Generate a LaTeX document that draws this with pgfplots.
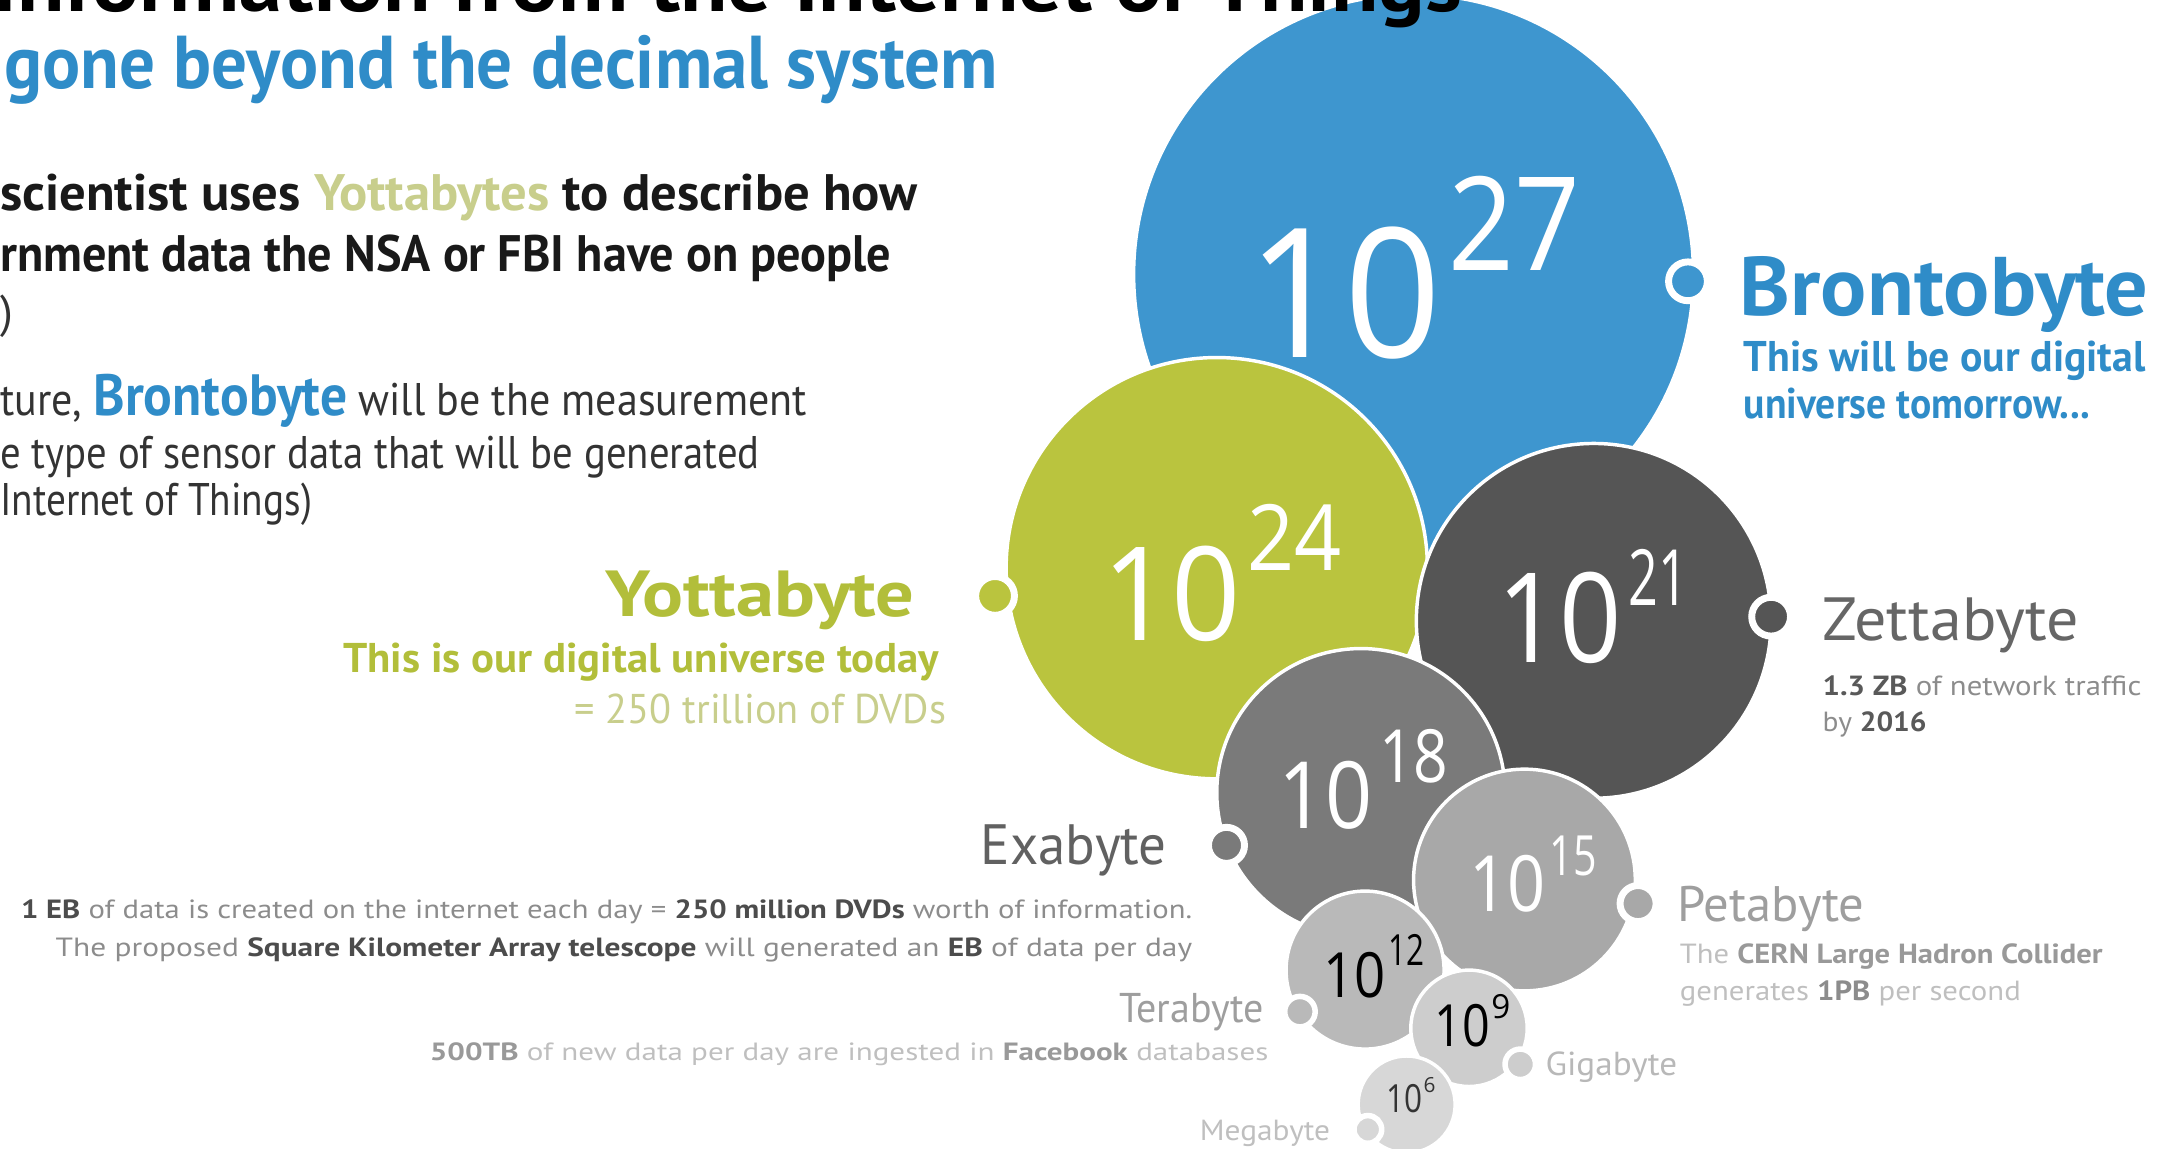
\documentclass[border=0pt]{standalone}
\usepackage{fontspec}
\usepackage{graphicx}
\usepackage{pgfplots}
\pgfplotsset{compat=1.18}
\setmainfont{PT Sans}
\newfontfamily\numfont{Open Sans}
\definecolor{cBlue}{RGB}{62,150,207}
\definecolor{cBlueT}{RGB}{47,140,200}
\definecolor{cGreen}{RGB}{186,196,62}
\definecolor{cGreenT}{RGB}{178,190,58}
\definecolor{cGreenL}{RGB}{200,206,140}
\definecolor{cDark}{RGB}{85,85,85}
\definecolor{cExa}{RGB}{122,122,122}
\definecolor{cPeta}{RGB}{168,168,168}
\definecolor{cTera}{RGB}{185,185,185}
\definecolor{cGiga}{RGB}{205,205,205}
\definecolor{cMega}{RGB}{215,215,215}
\newcommand\fw[2]{\resizebox{#1pt}{\height}{#2}}
\newcommand\fs[1]{\fontsize{#1}{#1}\selectfont}
\begin{document}
\begin{tikzpicture}
\begin{axis}[at={(0,0)}, anchor=south west, width=1568pt, height=829pt, scale only axis, set layers,
  xmin=0, xmax=1568, ymin=0, ymax=829, y dir=reverse, axis lines=none, ticks=none, clip=false]
% bubbles: Brontobyte, Yottabyte, Zettabyte, Exabyte, Petabyte, Terabyte, Gigabyte, Megabyte
\addplot[only marks, mark=*, mark size=202, mark options={fill=cBlue, draw=white, line width=2.5pt}] coordinates {(1020,198)};
\addplot[only marks, mark=*, mark size=152, mark options={fill=cGreen, draw=white, line width=2.5pt}] coordinates {(878,410)};
\addplot[only marks, mark=*, mark size=128, mark options={fill=cDark, draw=white, line width=2.5pt}] coordinates {(1150,448)};
\addplot[only marks, mark=*, mark size=104, mark options={fill=cExa, draw=white, line width=2.5pt}] coordinates {(982,572)};
\addplot[only marks, mark=*, mark size=80, mark options={fill=cPeta, draw=white, line width=2.5pt}] coordinates {(1100,635)};
\addplot[only marks, mark=*, mark size=57, mark options={fill=cTera, draw=white, line width=2.5pt}] coordinates {(985,700)};
\addplot[only marks, mark=*, mark size=42, mark options={fill=cGiga, draw=white, line width=2.5pt}] coordinates {(1060,742)};
\addplot[only marks, mark=*, mark size=35, mark options={fill=cMega, draw=white, line width=2.5pt}] coordinates {(1015,797)};
% connector dots
\addplot[only marks, mark=*, mark size=14, mark options={fill=cBlue, draw=white, line width=5pt}] coordinates {(1218,203)};
\addplot[only marks, mark=*, mark size=14, mark options={fill=cGreen, draw=white, line width=5pt}] coordinates {(718,430)};
\addplot[only marks, mark=*, mark size=14, mark options={fill=cDark, draw=white, line width=5pt}] coordinates {(1278,445)};
\addplot[only marks, mark=*, mark size=13, mark options={fill=cExa, draw=white, line width=5pt}] coordinates {(885,610)};
\addplot[only marks, mark=*, mark size=13, mark options={fill=cPeta, draw=white, line width=5pt}] coordinates {(1182,652)};
\addplot[only marks, mark=*, mark size=11, mark options={fill=cTera, draw=white, line width=4pt}] coordinates {(938,730)};
\addplot[only marks, mark=*, mark size=11, mark options={fill=cGiga, draw=white, line width=4pt}] coordinates {(1097,768)};
\addplot[only marks, mark=*, mark size=10, mark options={fill=cMega, draw=white, line width=4pt}] coordinates {(987,815)};

\begin{pgfonlayer}{axis foreground}
\begin{scope}[every node/.style={inner sep=0pt, anchor=base west}]
% numbers in bubbles
\node[text=white, font=\numfont\fs{130}] at (axis cs:900,258) {\fw{140}{10}};
\node[text=white, font=\numfont\fs{94}] at (axis cs:1045,195) {\fw{95}{27}};
\node[text=white, font=\numfont\fs{94}] at (axis cs:795,462) {\fw{100}{10}};
\node[text=white, font=\numfont\fs{66}] at (axis cs:900,412) {\fw{68}{24}};
\node[text=white, font=\numfont\fs{90}] at (axis cs:1080,478) {\fw{90}{10}};
\node[text=white, font=\numfont\fs{56}] at (axis cs:1175,437) {\fw{43}{21}};
\node[text=white, font=\numfont\fs{67}] at (axis cs:922,598) {\fw{68}{10}};
\node[text=white, font=\numfont\fs{53}] at (axis cs:995,565) {\fw{50}{18}};
\node[text=white, font=\numfont\fs{56}] at (axis cs:1060,658) {\fw{55}{10}};
\node[text=white, font=\numfont\fs{40}] at (axis cs:1118,632) {\fw{34}{15}};
\node[text=black, font=\numfont\fs{45}] at (axis cs:955,720) {\fw{45}{10}};
\node[text=black, font=\numfont\fs{31}] at (axis cs:1002,697) {\fw{26}{12}};
\node[text=black, font=\numfont\fs{42}] at (axis cs:1035,755) {\fw{40}{10}};
\node[text=black, font=\numfont\fs{24}] at (axis cs:1076,735) {9};
\node[text=black!80, font=\numfont\fs{28}] at (axis cs:1000,803) {\fw{26}{10}};
\node[text=black!80, font=\numfont\fs{15}] at (axis cs:1027,788) {6};

% left texts
\node[anchor=base east, text=black, font=\bfseries\fs{56}] at (axis cs:1055,8) {\fw{1060}{Information from the Internet of Things}};
\node[text=cBlueT, font=\bfseries\fs{54}] at (axis cs:3,64) {\fw{717}{gone beyond the decimal system}};
\node[text=black!90, font=\bfseries\fs{37}] at (axis cs:0,152) {\fw{662}{scientist uses \textcolor{cGreenL}{Yottabytes} to describe how}};
\node[text=black!90, font=\bfseries\fs{37}] at (axis cs:0,196) {\fw{643}{rnment data the NSA or FBI have on people}};
\node[text=black!80, font=\fs{33}] at (axis cs:0,236) {)};
\node[text=black!80, font=\fs{33}] at (axis cs:0,300) {\fw{582}{ture, \textcolor{cBlueT}{\bfseries\fs{42}Brontobyte} will be the measurement}};
\node[text=black!80, font=\fs{33}] at (axis cs:0,338) {\fw{548}{e type of sensor data that will be generated}};
\node[text=black!80, font=\fs{33}] at (axis cs:0,372) {\fw{225}{Internet of Things)}};

% Yottabyte
\node[anchor=base east, text=cGreenT, font=\bfseries\fs{47}] at (axis cs:660,445) {\fw{223}{Yottabyte}};
\node[anchor=base east, text=cGreenT, font=\bfseries\fs{30}] at (axis cs:678,485) {\fw{430}{This is our digital universe today}};
\node[anchor=base east, text=cGreenL, font=\fs{30}] at (axis cs:683,522) {\fw{268}{= 250 trillion of DVDs}};

% Exabyte
\node[anchor=base east, text=black!62, font=\fs{41}] at (axis cs:842,624) {\fw{134}{Exabyte}};
\node[text=black!45, font=\fs{19}] at (axis cs:15,663) {\fw{845}{\textcolor{black!70}{\bfseries 1 EB} of data is created on the internet each day = \textcolor{black!70}{\bfseries 250 million DVDs} worth of information.}};
\node[text=black!45, font=\fs{19}] at (axis cs:40,690) {\fw{820}{The proposed \textcolor{black!70}{\bfseries Square Kilometer Array telescope} will generated an \textcolor{black!70}{\bfseries EB} of data per day}};

% Terabyte, Megabyte
\node[anchor=base east, text=black!38, font=\fs{30}] at (axis cs:912,738) {\fw{104}{Terabyte}};
\node[text=black!25, font=\fs{18}] at (axis cs:310,765) {\fw{605}{\textcolor{black!40}{\bfseries 500TB} of new data per day are ingested in \textcolor{black!40}{\bfseries Facebook} databases}};
\node[anchor=base east, text=black!25, font=\fs{21}] at (axis cs:960,823) {\fw{94}{Megabyte}};

% Gigabyte
\node[text=black!28, font=\fs{24}] at (axis cs:1115,776) {\fw{95}{Gigabyte}};

% Petabyte
\node[text=black!38, font=\fs{36}] at (axis cs:1210,665) {\fw{135}{Petabyte}};
\node[text=black!25, font=\fs{20}] at (axis cs:1212,695) {\fw{305}{The \textcolor{black!40}{\bfseries CERN Large Hadron Collider}}};
\node[text=black!25, font=\fs{20}] at (axis cs:1212,722) {\fw{246}{generates \textcolor{black!45}{\bfseries 1PB} per second}};

% Zettabyte
\node[text=black!60, font=\fs{44}] at (axis cs:1315,462) {\fw{185}{Zettabyte}};
\node[text=black!45, font=\fs{20}] at (axis cs:1315,502) {\fw{230}{\textcolor{black!65}{\bfseries 1.3 ZB} of network traffic}};
\node[text=black!45, font=\fs{20}] at (axis cs:1315,528) {\fw{75}{by \textcolor{black!65}{\bfseries 2016}}};

% Brontobyte
\node[text=cBlueT, font=\bfseries\fs{60}] at (axis cs:1255,228) {\fw{295}{Brontobyte}};
\node[text=cBlueT, font=\bfseries\fs{31}] at (axis cs:1258,268) {\fw{290}{This will be our digital}};
\node[text=cBlueT, font=\bfseries\fs{31}] at (axis cs:1258,302) {\fw{250}{universe tomorrow...}};
\end{scope}
\end{pgfonlayer}
\end{axis}
\pgfresetboundingbox
\path[use as bounding box] (0,0) rectangle (1568pt,829pt);
\end{tikzpicture}
\end{document}
